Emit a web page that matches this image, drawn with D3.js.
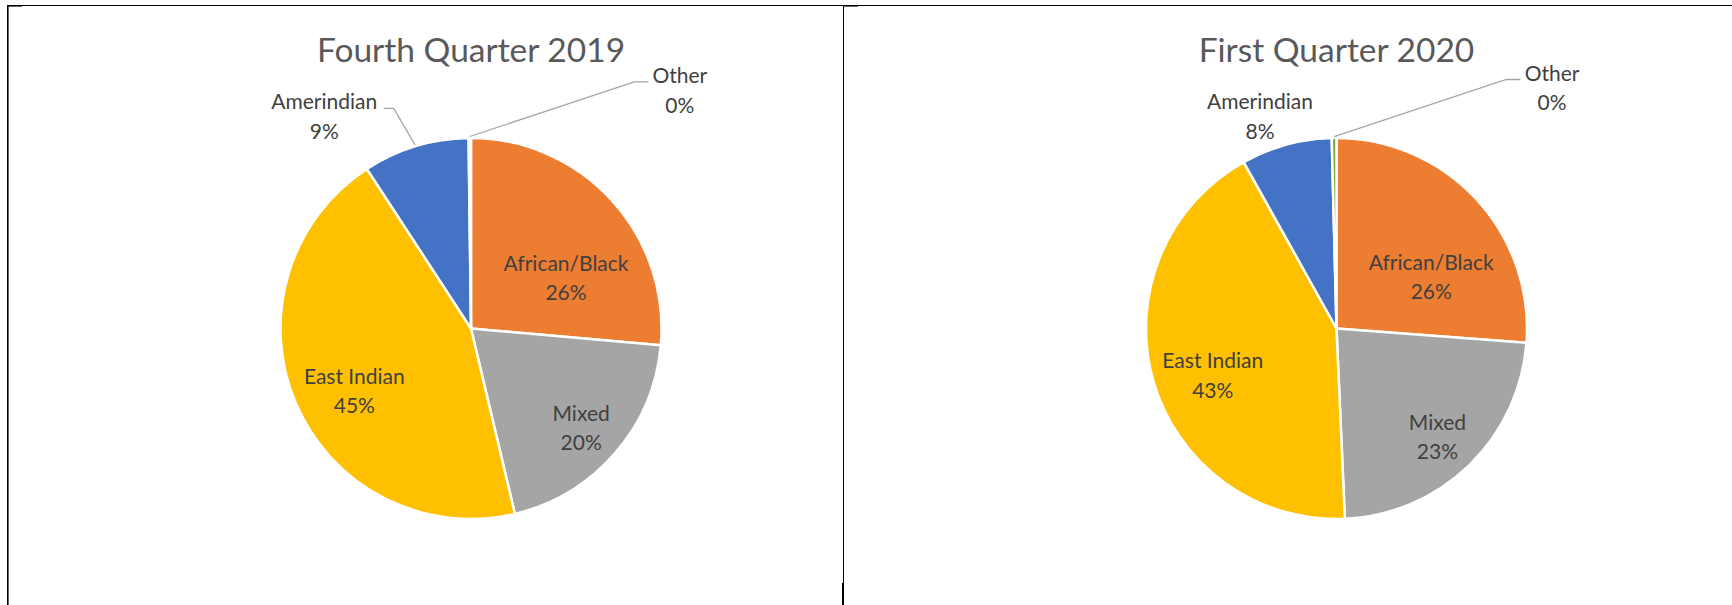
<!DOCTYPE html>
<html>
<head>
<meta charset="utf-8">
<script src="https://cdn.jsdelivr.net/npm/d3@7"></script>
<style>
  html, body { margin: 0; padding: 0; background: #ffffff; }
  svg { display: block; }
</style>
</head>
<body>
<svg id="chart" width="1732" height="605"></svg>
<script>
// ---------------- DATA ----------------
const categories = ["African/Black", "Mixed", "East Indian", "Amerindian", "Other"];
const chartTitles = ["Fourth Quarter 2019", "First Quarter 2020"];
const valuesQ4_2019 = [26.4, 19.9, 44.5, 9.0, 0.2];
const valuesQ1_2020 = [26.2, 23.1, 42.6, 7.7, 0.4];
const pctLabelsQ4_2019 = ["26%", "20%", "45%", "9%", "0%"];
const pctLabelsQ1_2020 = ["26%", "23%", "43%", "8%", "0%"];
const sliceColors = ["#ED7D31", "#A5A5A5", "#FFC000", "#4472C4", "#70AD47"];

// ---------------- LAYOUT ----------------
const W = 1732, H = 605;
const radius = 190.5;
const pies = [
  { title: chartTitles[0], values: valuesQ4_2019, pct: pctLabelsQ4_2019, cx: 471, cy: 328.5,
    // outside labels: offset of label centre x / first baseline from pie centre
    outside: { "Amerindian": { dx: -146.8, dy: -219.2, leader: true, side: "left" },
               "Other":      { dx: 208.8,  dy: -245.2, leader: true, side: "right" } } },
  { title: chartTitles[1], values: valuesQ1_2020, pct: pctLabelsQ1_2020, cx: 1336.5, cy: 328.5,
    outside: { "Amerindian": { dx: -76.5, dy: -219.2, leader: false, side: "left" },
               "Other":      { dx: 215.5, dy: -247.5, leader: true, side: "right" } } }
];
// inside labels: angular nudge (deg) and radial fraction
const insideLabel = {
  "African/Black": { nudge: 14.5, k: 0.565 },
  "Mixed":         { nudge: 1.3,  k: 0.78 },
  "East Indian":   { nudge: -5.0, k: 0.695 }
};
const fontFamily = "Lato, 'Open Sans', sans-serif";
const labelSize = 21, lineGap = 29.3, capH = 14.5;
const titleSize = 33.5;

const svg = d3.select("#chart");

// table-like frame lines
const frame = svg.append("g").attr("stroke", "#000").attr("fill", "none");
frame.append("line").attr("x1", 7).attr("x2", W).attr("y1", 5.5).attr("y2", 5.5).attr("stroke-width", 1);
frame.append("line").attr("x1", 7.8).attr("x2", 7.8).attr("y1", 5).attr("y2", H).attr("stroke-width", 1.6);
frame.append("line").attr("x1", 7).attr("x2", 22).attr("y1", 5.8).attr("y2", 5.8).attr("stroke-width", 1.6);
frame.append("line").attr("x1", 843.5).attr("x2", 843.5).attr("y1", 5).attr("y2", H).attr("stroke-width", 1);
frame.append("line").attr("x1", 843).attr("x2", 858).attr("y1", 5.8).attr("y2", 5.8).attr("stroke-width", 1.6);
frame.append("line").attr("x1", 843).attr("x2", 843).attr("y1", 583).attr("y2", H).attr("stroke-width", 2);

const pieGen = d3.pie().sort(null).value(d => d);
const arcGen = d3.arc().innerRadius(0).outerRadius(radius);
const color = d3.scaleOrdinal().domain(categories).range(sliceColors);
const polar = (a, r) => [Math.sin(a) * r, -Math.cos(a) * r];

pies.forEach(p => {
  const g = svg.append("g").attr("transform", `translate(${p.cx},${p.cy})`);
  const arcs = pieGen(p.values).map((a, i) => Object.assign(a, { cat: categories[i], pct: p.pct[i] }));

  g.selectAll("path.slice").data(arcs).enter().append("path")
    .attr("class", "slice")
    .attr("d", arcGen)
    .attr("fill", d => color(d.cat))
    .attr("stroke", "#ffffff")
    .attr("stroke-width", 2.5)
    .attr("stroke-linejoin", "round");

  // title
  svg.append("text")
    .attr("x", p.cx).attr("y", 62.3)
    .attr("text-anchor", "middle")
    .attr("font-family", fontFamily)
    .attr("font-size", titleSize)
    .attr("fill", "#595959")
    .text(p.title);

  arcs.forEach(d => {
    const mid = (d.startAngle + d.endAngle) / 2;
    let x, b1;
    if (insideLabel[d.cat]) {
      const L = insideLabel[d.cat];
      const [px, py] = polar(mid + L.nudge * Math.PI / 180, L.k * radius);
      x = px; b1 = py - (lineGap - capH) / 2;
    } else {
      const o = p.outside[d.cat];
      x = o.dx; b1 = o.dy;
    }
    const t = g.append("text")
      .attr("text-anchor", "middle")
      .attr("font-family", fontFamily)
      .attr("font-size", labelSize)
      .attr("fill", "#404040");
    t.append("tspan").attr("x", x).attr("y", b1).text(d.cat);
    t.append("tspan").attr("x", x).attr("y", b1 + lineGap).text(d.pct);

    const o = p.outside[d.cat];
    if (o && o.leader) {
      const w = t.node().getBBox().width;
      const start = polar(mid, radius + 1.5);
      let end, elbow;
      if (o.side === "right") {
        end = [x - w / 2 - 4, b1 - 1.5];
        elbow = [end[0] - 14, end[1]];
      } else {
        end = [x + w / 2 + 6.5, b1 - 1];
        elbow = [end[0] + 10, end[1]];
      }
      g.append("path")
        .attr("d", d3.line()([start, elbow, end]))
        .attr("fill", "none")
        .attr("stroke", "#A6A6A6")
        .attr("stroke-width", 1.3);
    }
  });
});
</script>
</body>
</html>
